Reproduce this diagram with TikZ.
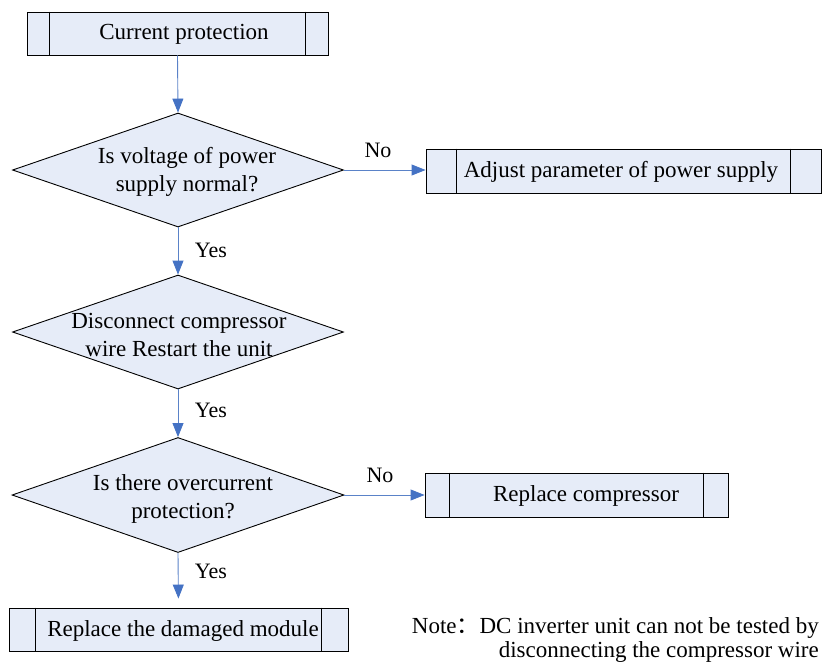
\documentclass[tikz,border=0pt]{standalone}
\usepackage{fontspec}
\setmainfont{Liberation Serif}
\newfontfamily\cjk{Noto Sans CJK SC}
\usetikzlibrary{shapes.geometric,arrows.meta}
\definecolor{boxfill}{RGB}{230,236,248}
\definecolor{arrowblue}{RGB}{68,114,196}
\definecolor{lineblue}{RGB}{90,130,200}
\tikzset{
  x=1pt,y=-1pt,
  procbox/.style={draw=black,fill=boxfill,line width=0.9pt,rectangle,inner sep=0pt},
  decision/.style={draw=black,fill=boxfill,line width=0.9pt,diamond,inner sep=0pt,aspect=2.9},
  txt/.style={font=\fontsize{23}{28}\selectfont,align=center,inner sep=0pt},
  lbl/.style={font=\fontsize{22}{26}\selectfont,inner sep=0pt},
  flow/.style={draw=lineblue,line width=0.9pt,-{Triangle[width=11pt,length=14pt,color=arrowblue]}}
}
\begin{document}
\begin{tikzpicture}
\useasboundingbox (0,0) rectangle (823,665);
% boxes
\node[procbox,minimum width=301pt,minimum height=43pt] (b1) at (177.5,33.5) {};
\node[txt] (t1) at (184,34) {Current protection};
\node[procbox,minimum width=395pt,minimum height=44pt] (b2) at (623.5,171) {};
\node[txt] (t2) at (621,172) {Adjust parameter of power supply};
\node[procbox,minimum width=303pt,minimum height=44pt] (b3) at (576.5,495) {};
\node[txt] (t3) at (586,496) {Replace compressor};
\node[procbox,minimum width=339pt,minimum height=43pt] (b4) at (178.5,629.5) {};
\node[txt] (t4) at (183,631) {Replace the damaged module};
% inner lines of boxes
\draw[line width=0.9pt] ([xshift=23pt]b1.north west) -- ([xshift=23pt]b1.south west);
\draw[line width=0.9pt] ([xshift=-23pt]b1.north east) -- ([xshift=-23pt]b1.south east);
\draw[line width=0.9pt] ([xshift=31pt]b2.north west) -- ([xshift=31pt]b2.south west);
\draw[line width=0.9pt] ([xshift=-31pt]b2.north east) -- ([xshift=-31pt]b2.south east);
\draw[line width=0.9pt] ([xshift=25pt]b3.north west) -- ([xshift=25pt]b3.south west);
\draw[line width=0.9pt] ([xshift=-25pt]b3.north east) -- ([xshift=-25pt]b3.south east);
\draw[line width=0.9pt] ([xshift=27pt]b4.north west) -- ([xshift=27pt]b4.south west);
\draw[line width=0.9pt] ([xshift=-27pt]b4.north east) -- ([xshift=-27pt]b4.south east);
% decisions
\node[decision,minimum width=331pt,minimum height=114pt] (d1) at (178,170) {};
\node[txt] (dt1) at (187,172) {Is voltage of power\\supply normal?};
\node[decision,minimum width=331pt,minimum height=114pt] (d2) at (178,332) {};
\node[txt] (dt2) at (179,335) {Disconnect compressor\\wire Restart the unit};
\node[decision,minimum width=332pt,minimum height=115pt] (d3) at (178,495) {};
\node[txt] (dt3) at (183,499) {Is there overcurrent\\protection?};
% connectors
\draw[flow] (b1.south) -- (d1.north);
\draw[flow] (d1.east) -- (d1.east -| b2.west);
\draw[flow] (d1.south) -- (d2.north);
\draw[flow] (d2.south) -- (d3.north);
\draw[flow] (d3.east) -- (d3.east -| b3.west);
\draw[flow,shorten >=9pt] (d3.south) -- (b4.north);
% labels
\node[lbl] (l1) at (378,150) {No};
\node[lbl] (l2) at (211,250) {Yes};
\node[lbl] (l3) at (211,410) {Yes};
\node[lbl] (l4) at (380,475) {No};
\node[lbl] (l5) at (211,571) {Yes};
% note
\node[font=\fontsize{23}{24}\selectfont,align=right,inner sep=0pt,anchor=east] (note) at (819,640)
  {Note{\cjk ：}DC inverter unit can not be tested by\\disconnecting the compressor wire};
\end{tikzpicture}
\end{document}
